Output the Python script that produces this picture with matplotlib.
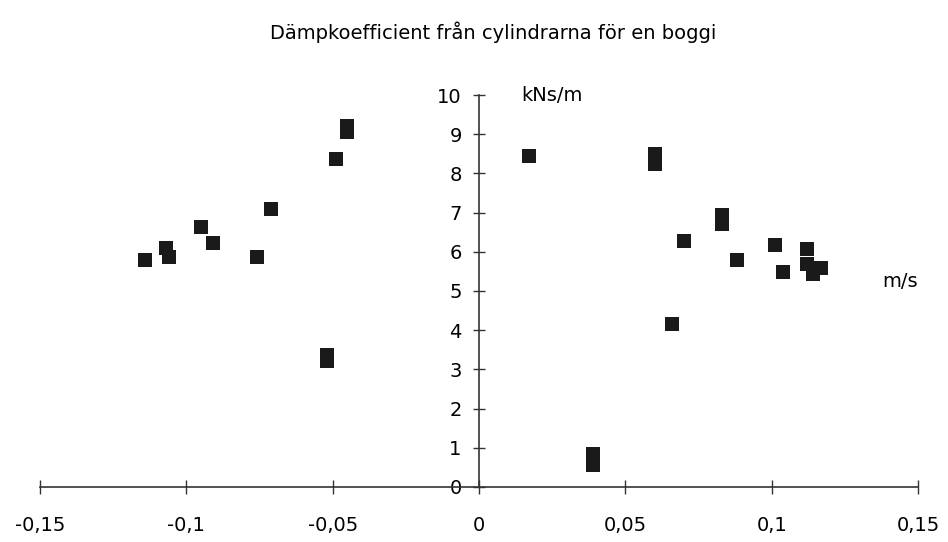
import matplotlib
matplotlib.use("Agg")
import matplotlib.pyplot as plt
from matplotlib.ticker import FuncFormatter

plt.rcParams['font.family'] = ['DejaVu Sans']

# Damping coefficient (kNs/m) vs. piston velocity (m/s)
velocity = [-0.114, -0.107, -0.106, -0.095, -0.091, -0.076, -0.071,
            -0.052, -0.052, -0.049, -0.045, -0.045,
            0.017, 0.039, 0.039, 0.060, 0.060, 0.066, 0.070,
            0.083, 0.083, 0.088, 0.101, 0.104, 0.112, 0.112, 0.114, 0.117]
damping = [5.79, 6.10, 5.87, 6.62, 6.22, 5.86, 7.10,
           3.38, 3.22, 8.38, 9.05, 9.22,
           8.45, 0.85, 0.55, 8.50, 8.25, 4.16, 6.27,
           6.95, 6.72, 5.79, 6.17, 5.48, 6.07, 5.68, 5.43, 5.58]

x_ticks = [-0.15, -0.1, -0.05, 0, 0.05, 0.1, 0.15]
y_ticks = list(range(0, 11))

fig = plt.figure(figsize=(9.48, 5.42), dpi=100)
ax = fig.add_axes([40 / 948, 55 / 542, 878 / 948, 392 / 542])

ax.scatter(velocity, damping, marker='s', s=110, color='#1a1a1a',
           linewidths=0, clip_on=False, zorder=3)

ax.set_xlim(-0.15, 0.15)
ax.set_ylim(0, 10)

for side in ('top', 'right'):
    ax.spines[side].set_visible(False)
ax.spines['left'].set_position(('data', 0))
ax.spines['bottom'].set_position(('data', 0))
for side in ('left', 'bottom'):
    ax.spines[side].set_color('#333333')
    ax.spines[side].set_linewidth(1.2)

ax.set_xticks(x_ticks)
ax.set_yticks(y_ticks)

def comma(v, pos):
    if abs(v) < 1e-12:
        return '0'
    return f"{v:g}".replace('.', ',')

ax.xaxis.set_major_formatter(FuncFormatter(comma))
ax.tick_params(axis='x', direction='inout', length=10, width=1,
               colors='#333333', labelcolor='black', labelsize=14, pad=16)
ax.tick_params(axis='y', direction='inout', length=9, width=1,
               colors='#333333', labelcolor='black', labelsize=14, pad=8)

ax.text(0.025, 10, 'kNs/m', fontsize=14, ha='center', va='center')
ax.text(0.144, 5.25, 'm/s', fontsize=14, ha='center', va='center')

fig.text(0.52, 0.94, 'Dämpkoefficient från cylindrarna för en boggi',
         fontsize=14, ha='center', va='center')

fig.savefig('out.png', dpi=100, facecolor='white')
